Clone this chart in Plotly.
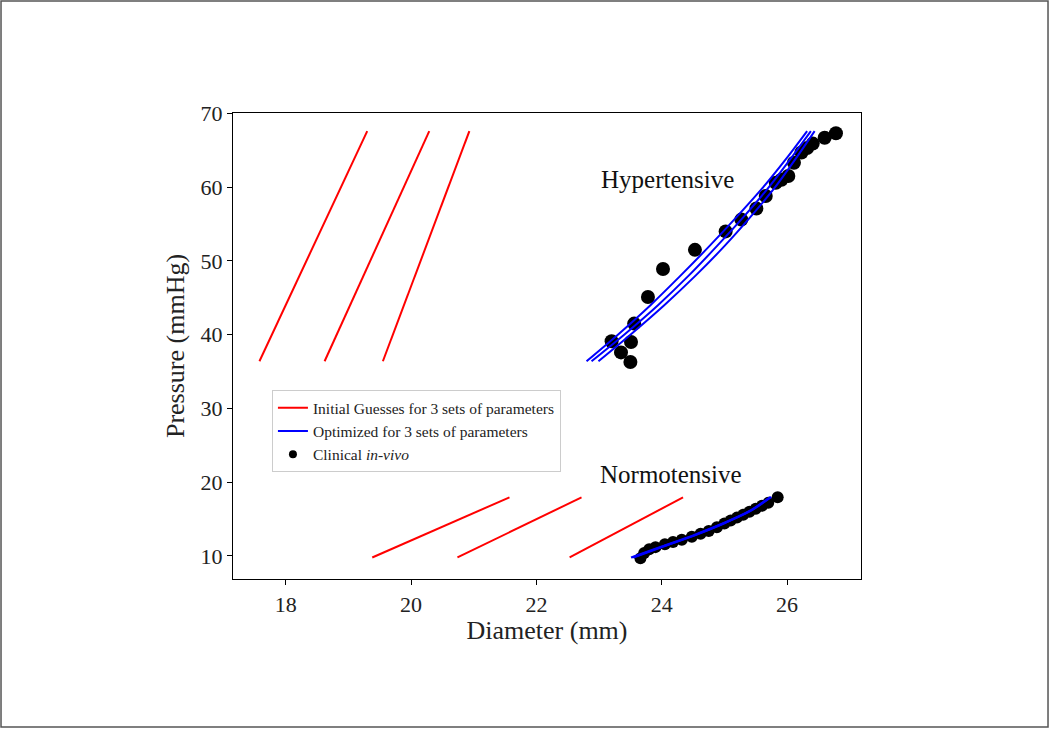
import plotly.graph_objects as go

# ---------------- data ----------------
# Initial guesses (red straight lines), hypertensive
hyp_guess_pressure = [36.4, 67.6]
hyp_guess_diam_1 = [17.58, 19.30]
hyp_guess_diam_2 = [18.62, 20.29]
hyp_guess_diam_3 = [19.55, 20.93]

# Initial guesses (red straight lines), normotensive
norm_guess_pressure = [9.8, 17.95]
norm_guess_diam_1 = [19.38, 21.57]
norm_guess_diam_2 = [20.74, 22.72]
norm_guess_diam_3 = [22.53, 24.34]

# Optimized curves (blue), hypertensive
hyp_opt_pressure = [36.4, 40.0, 44.0, 48.0, 52.0, 56.0, 60.0, 64.0, 67.6]
hyp_opt_diam_1 = [22.80, 23.30, 23.82, 24.30, 24.76, 25.20, 25.62, 26.00, 26.32]
hyp_opt_diam_2 = [22.88, 23.40, 23.94, 24.43, 24.88, 25.31, 25.71, 26.07, 26.38]
hyp_opt_diam_3 = [22.99, 23.50, 24.04, 24.54, 25.00, 25.42, 25.81, 26.15, 26.44]

# Optimized curves (blue), normotensive
norm_opt_pressure = [9.8, 11.3, 12.8, 14.5, 16.1, 18.0]
norm_opt_diam_1 = [23.51, 24.00, 24.50, 25.00, 25.40, 25.73]
norm_opt_diam_2 = [23.53, 24.02, 24.52, 25.01, 25.41, 25.74]
norm_opt_diam_3 = [23.55, 24.04, 24.53, 25.02, 25.42, 25.75]

# Clinical in-vivo data, hypertensive
hyp_clin_diam = [23.20, 23.35, 23.51, 23.50, 23.56, 23.78, 24.02, 24.53, 25.02, 25.27,
                 25.51, 25.66, 25.82, 25.91, 26.02, 26.11, 26.23, 26.32, 26.41, 26.60, 26.78]
hyp_clin_pressure = [39.1, 37.6, 39.0, 36.3, 41.5, 45.1, 48.9, 51.5, 54.0, 55.6,
                     57.1, 58.8, 60.6, 61.0, 61.5, 63.3, 64.7, 65.3, 65.9, 66.7, 67.3]

# Clinical in-vivo data, normotensive
norm_clin_diam = [23.66, 23.72, 23.80, 23.90, 24.05, 24.18, 24.32, 24.48, 24.62, 24.75,
                  24.88, 25.00, 25.10, 25.20, 25.30, 25.40, 25.50, 25.60, 25.70, 25.85]
norm_clin_pressure = [9.7, 10.4, 10.9, 11.2, 11.6, 11.9, 12.2, 12.6, 13.0, 13.4,
                      13.9, 14.4, 14.8, 15.2, 15.6, 16.0, 16.4, 16.8, 17.2, 17.95]

legend_labels = ["Initial Guesses for 3 sets of parameters",
                 "Optimized for 3 sets of parameters",
                 "Clinical <i>in-vivo</i>"]

x_ticks = [18, 20, 22, 24, 26]
y_ticks = [10, 20, 30, 40, 50, 60, 70]

# ---------------- figure ----------------
RED = "#ff0000"
BLUE = "#0000ff"
FONT = "Liberation Serif"
TXT = "#222222"

fig = go.Figure()

fig.add_trace(go.Scatter(x=hyp_clin_diam, y=hyp_clin_pressure, mode="markers",
                         marker=dict(color="black", size=14), showlegend=False))
fig.add_trace(go.Scatter(x=norm_clin_diam, y=norm_clin_pressure, mode="markers",
                         marker=dict(color="black", size=12), showlegend=False))

for d, p in [(hyp_guess_diam_1, hyp_guess_pressure), (hyp_guess_diam_2, hyp_guess_pressure),
             (hyp_guess_diam_3, hyp_guess_pressure), (norm_guess_diam_1, norm_guess_pressure),
             (norm_guess_diam_2, norm_guess_pressure), (norm_guess_diam_3, norm_guess_pressure)]:
    fig.add_trace(go.Scatter(x=d, y=p, mode="lines", line=dict(color=RED, width=2),
                             showlegend=False, hoverinfo="skip"))

for d, p in [(hyp_opt_diam_1, hyp_opt_pressure), (hyp_opt_diam_2, hyp_opt_pressure),
             (hyp_opt_diam_3, hyp_opt_pressure), (norm_opt_diam_1, norm_opt_pressure),
             (norm_opt_diam_2, norm_opt_pressure), (norm_opt_diam_3, norm_opt_pressure)]:
    fig.add_trace(go.Scatter(x=d, y=p, mode="lines",
                             line=dict(color=BLUE, width=2, shape="spline", smoothing=0.8),
                             showlegend=False, hoverinfo="skip"))

# legend entries
fig.add_trace(go.Scatter(x=[None], y=[None], mode="lines", line=dict(color=RED, width=2),
                         name=legend_labels[0]))
fig.add_trace(go.Scatter(x=[None], y=[None], mode="lines", line=dict(color=BLUE, width=2),
                         name=legend_labels[1]))
fig.add_trace(go.Scatter(x=[None], y=[None], mode="markers", marker=dict(color="black", size=8),
                         name=legend_labels[2]))

fig.add_annotation(x=24.09, y=61.0, text="Hypertensive", showarrow=False,
                   font=dict(family=FONT, size=25, color="#111"))
fig.add_annotation(x=24.15, y=21.0, text="Normotensive", showarrow=False,
                   font=dict(family=FONT, size=25, color="#111"))

# outer frame
fig.add_shape(type="rect", xref="paper", yref="paper",
              x0=-0.3694, x1=1.2978, y0=-0.3176, y1=1.2403,
              line=dict(color="#555555", width=1.5), fillcolor="rgba(0,0,0,0)")

axis_common = dict(showline=True, linecolor="black", linewidth=1.2, mirror=True,
                   ticks="outside", ticklen=5, tickcolor="black", showgrid=False,
                   zeroline=False, tickfont=dict(family=FONT, size=22, color=TXT))

fig.update_layout(
    width=1050, height=729,
    paper_bgcolor="white", plot_bgcolor="white",
    margin=dict(l=233, r=189, t=113, b=150),
    xaxis=dict(range=[17.158, 27.18], tickvals=x_ticks,
               title=dict(text="Diameter (mm)", font=dict(family=FONT, size=26, color=TXT),
                          standoff=4),
               **axis_common),
    yaxis=dict(range=[6.88, 70.05], tickvals=y_ticks,
               title=dict(text="Pressure (mmHg)", font=dict(family=FONT, size=26, color=TXT),
                          standoff=8),
               **axis_common),
    legend=dict(x=0.062, y=0.405, xanchor="left", yanchor="top",
                bgcolor="white", bordercolor="#cccccc", borderwidth=1,
                font=dict(family=FONT, size=15.5, color=TXT),
                tracegroupgap=0, itemwidth=30),
    showlegend=True,
)

fig.write_html("out.html", config={"displayModeBar": False},
               post_script="document.body.style.margin='0';")
